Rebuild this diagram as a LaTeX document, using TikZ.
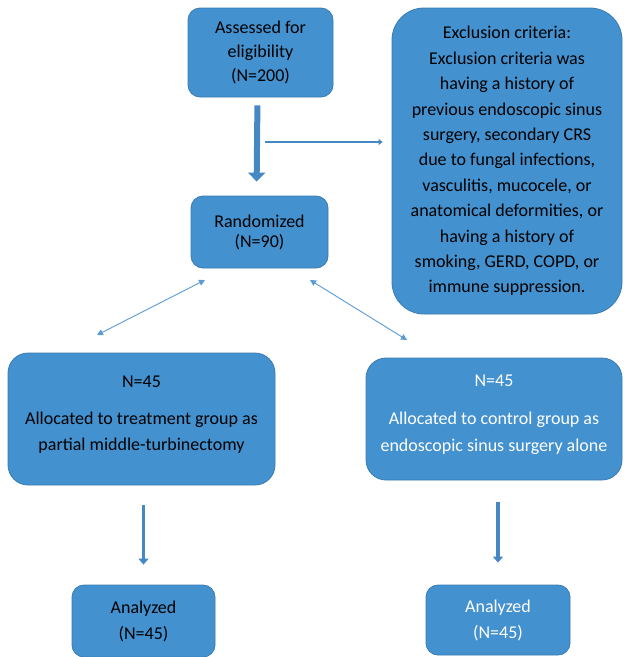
\documentclass[tikz,border=0pt]{standalone}
\usepackage{fontspec}
\setmainfont{Carlito}
\usetikzlibrary{arrows.meta}
\definecolor{boxfill}{RGB}{67,145,207}
\definecolor{boxline}{RGB}{58,124,178}
\definecolor{arrowc}{RGB}{70,136,196}
\definecolor{thinc}{RGB}{91,155,213}
\tikzset{
  box/.style={draw=boxline, line width=0.8pt, fill=boxfill, rounded corners=12pt, align=center, inner sep=0pt, font=\fontsize{18}{24}\selectfont},
  thickarrow/.style={draw=arrowc, line width=6pt, -{Triangle[width=17pt,length=9pt]}},
  midarrow/.style={draw=arrowc, line width=3.5pt, -{Triangle[width=10pt,length=6pt]}},
  thinarrow/.style={draw=arrowc, line width=2pt, -{Triangle[width=6pt,length=4pt]}},
  dblarrow/.style={draw=thinc, line width=0.9pt, {Triangle[width=6pt,length=6pt]}-{Triangle[width=6pt,length=6pt]}},
}
\begin{document}
\begin{tikzpicture}[x=1pt,y=-1pt]
\useasboundingbox (0,0) rectangle (625,657);
\node[box, minimum width=145pt, minimum height=89pt] (assess) at (260.5,52.5) {Assessed for\\eligibility\\(N=200)};
\node[box, minimum width=230pt, minimum height=306pt, rounded corners=32pt, font=\fontsize{18}{25.4}\selectfont] (excl) at (507,161)
 {Exclusion criteria:\\Exclusion criteria was\\having a history of\\previous endoscopic sinus\\surgery, secondary CRS\\due to fungal infections,\\vasculitis, mucocele, or\\anatomical deformities, or\\having a history of\\smoking, GERD, COPD, or\\immune suppression.};
\node[box, minimum width=137pt, minimum height=72pt, font=\fontsize{18}{20}\selectfont] (rand) at (259.5,232) {Randomized\\(N=90)};
\node[box, minimum width=267pt, minimum height=132pt, rounded corners=20pt, text depth=11pt, font=\fontsize{18}{26}\selectfont] (lgrp) at (141.5,419) {N=45\\[11pt]Allocated to treatment group as\\partial middle-turbinectomy};
\node[box, minimum width=256pt, minimum height=122pt, rounded corners=20pt, text depth=12pt, text=white, font=\fontsize{18}{27}\selectfont] (rgrp) at (494,419) {N=45\\[11pt]Allocated to control group as\\endoscopic sinus surgery alone};
\node[box, minimum width=143pt, minimum height=72pt, font=\fontsize{18}{26}\selectfont] (lan) at (143.5,621) {Analyzed\\(N=45)};
\node[box, minimum width=144pt, minimum height=70pt, text=white, font=\fontsize{18}{26}\selectfont] (ran) at (498,620) {Analyzed\\(N=45)};
% arrows
\draw[thickarrow, shorten <=8pt, shorten >=14pt] ([xshift=-3pt]assess.south) -- ([xshift=-3pt]rand.north);
\coordinate (h) at (265,142);
\draw[thinarrow, shorten >=9pt] (h) -- (h -| excl.west);
\coordinate (d1a) at (205,280);
\coordinate (d1b) at (97,335);
\coordinate (d2a) at (310,280);
\coordinate (d2b) at (407,340);
\draw[dblarrow] (d1a) -- (d1b);
\draw[dblarrow] (d2a) -- (d2b);
\draw[midarrow, shorten <=20pt, shorten >=20pt] (lan.north |- lgrp.south) -- (lan.north);
\draw[midarrow, shorten <=22pt, shorten >=22pt] (ran.north |- rgrp.south) -- (ran.north);
\end{tikzpicture}
\end{document}
